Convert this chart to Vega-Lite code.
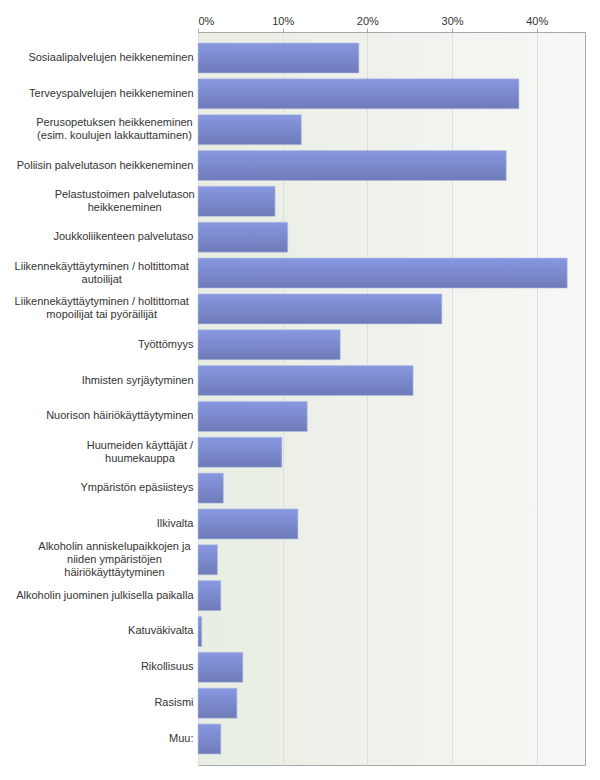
{
  "$schema": "https://vega.github.io/schema/vega-lite/v6.json",
  "width": 387,
  "height": 733,
  "autosize": {"type": "none"},
  "padding": {"left": 198, "top": 32, "right": 15, "bottom": 15},
  "background": "white",
  "config": {
    "font": "Liberation Sans",
    "view": {
      "stroke": "#a8a8a8",
      "strokeWidth": 1,
      "fill": {"gradient": "linear", "x1": 0, "y1": 0, "x2": 1, "y2": 0, "stops": [{"offset": 0, "color": "#e8eee3"}, {"offset": 0.5, "color": "#eff2ec"}, {"offset": 1, "color": "#f7f8f5"}]}
    }
  },
  "data": {
    "values": [
      {"label": "Sosiaalipalvelujen heikkeneminen", "value": 0.190},
      {"label": "Terveyspalvelujen heikkeneminen", "value": 0.379},
      {"label": "Perusopetuksen heikkeneminen|(esim. koulujen lakkauttaminen)", "value": 0.122},
      {"label": "Poliisin palvelutason heikkeneminen", "value": 0.364},
      {"label": "Pelastustoimen palvelutason|heikkeneminen", "value": 0.091},
      {"label": "Joukkoliikenteen palvelutaso", "value": 0.106},
      {"label": "Liikennekäyttäytyminen / holtittomat|autoilijat", "value": 0.436},
      {"label": "Liikennekäyttäytyminen / holtittomat|mopoilijat tai pyöräilijät", "value": 0.288},
      {"label": "Työttömyys", "value": 0.168},
      {"label": "Ihmisten syrjäytyminen", "value": 0.254},
      {"label": "Nuorison häiriökäyttäytyminen", "value": 0.129},
      {"label": "Huumeiden käyttäjät /|huumekauppa", "value": 0.099},
      {"label": "Ympäristön epäsiisteys", "value": 0.030},
      {"label": "Ilkivalta", "value": 0.118},
      {"label": "Alkoholin anniskelupaikkojen ja|niiden ympäristöjen|häiriökäyttäytyminen", "value": 0.023},
      {"label": "Alkoholin juominen julkisella paikalla", "value": 0.027},
      {"label": "Katuväkivalta", "value": 0.0045},
      {"label": "Rikollisuus", "value": 0.053},
      {"label": "Rasismi", "value": 0.046},
      {"label": "Muu:", "value": 0.027}
    ]
  },
  "mark": {
    "type": "bar",
    "fill": {"gradient": "linear", "x1": 0, "y1": 0, "x2": 0, "y2": 1, "stops": [{"offset": 0, "color": "#8898e1"}, {"offset": 1, "color": "#6e7bb9"}]},
    "stroke": "#b8c0e0",
    "strokeWidth": 0.6
  },
  "encoding": {
    "y": {
      "field": "label",
      "type": "nominal",
      "sort": null,
      "scale": {"paddingInner": 0.163, "paddingOuter": 0.307},
      "axis": {
        "title": null,
        "ticks": false,
        "domain": false,
        "labelExpr": "split(datum.value, '|')",
        "labelBaseline": "middle",
        "labelOffset": {"expr": "-(length(split(datum.value, '|')) - 1) * 6.5"},
        "labelAlign": {"expr": "length(split(datum.value, '|')) > 1 ? 'center' : 'right'"},
        "labelPadding": {"expr": "length(split(datum.value, '|')) > 1 ? 5 + 2.55 * max(length(split(datum.value, '|')[0]), length(split(datum.value, '|')[1]), length(split(datum.value, '|')[2] || '')) : 5"},
        "labelFontSize": 11,
        "labelColor": "#333333",
        "labelLimit": 250,
        "labelLineHeight": 13
      }
    },
    "x": {
      "field": "value",
      "type": "quantitative",
      "scale": {"domain": [0, 0.457], "nice": false},
      "axis": {
        "orient": "top",
        "title": null,
        "format": ".0%",
        "values": [0, 0.1, 0.2, 0.3, 0.4],
        "labelFontSize": 11,
        "labelColor": "#333333",
        "labelPadding": 2,
        "tickSize": 4,
        "tickColor": "#a8a8a8",
        "domainColor": "#a8a8a8",
        "gridColor": "#dedede",
        "grid": true
      }
    }
  }
}
